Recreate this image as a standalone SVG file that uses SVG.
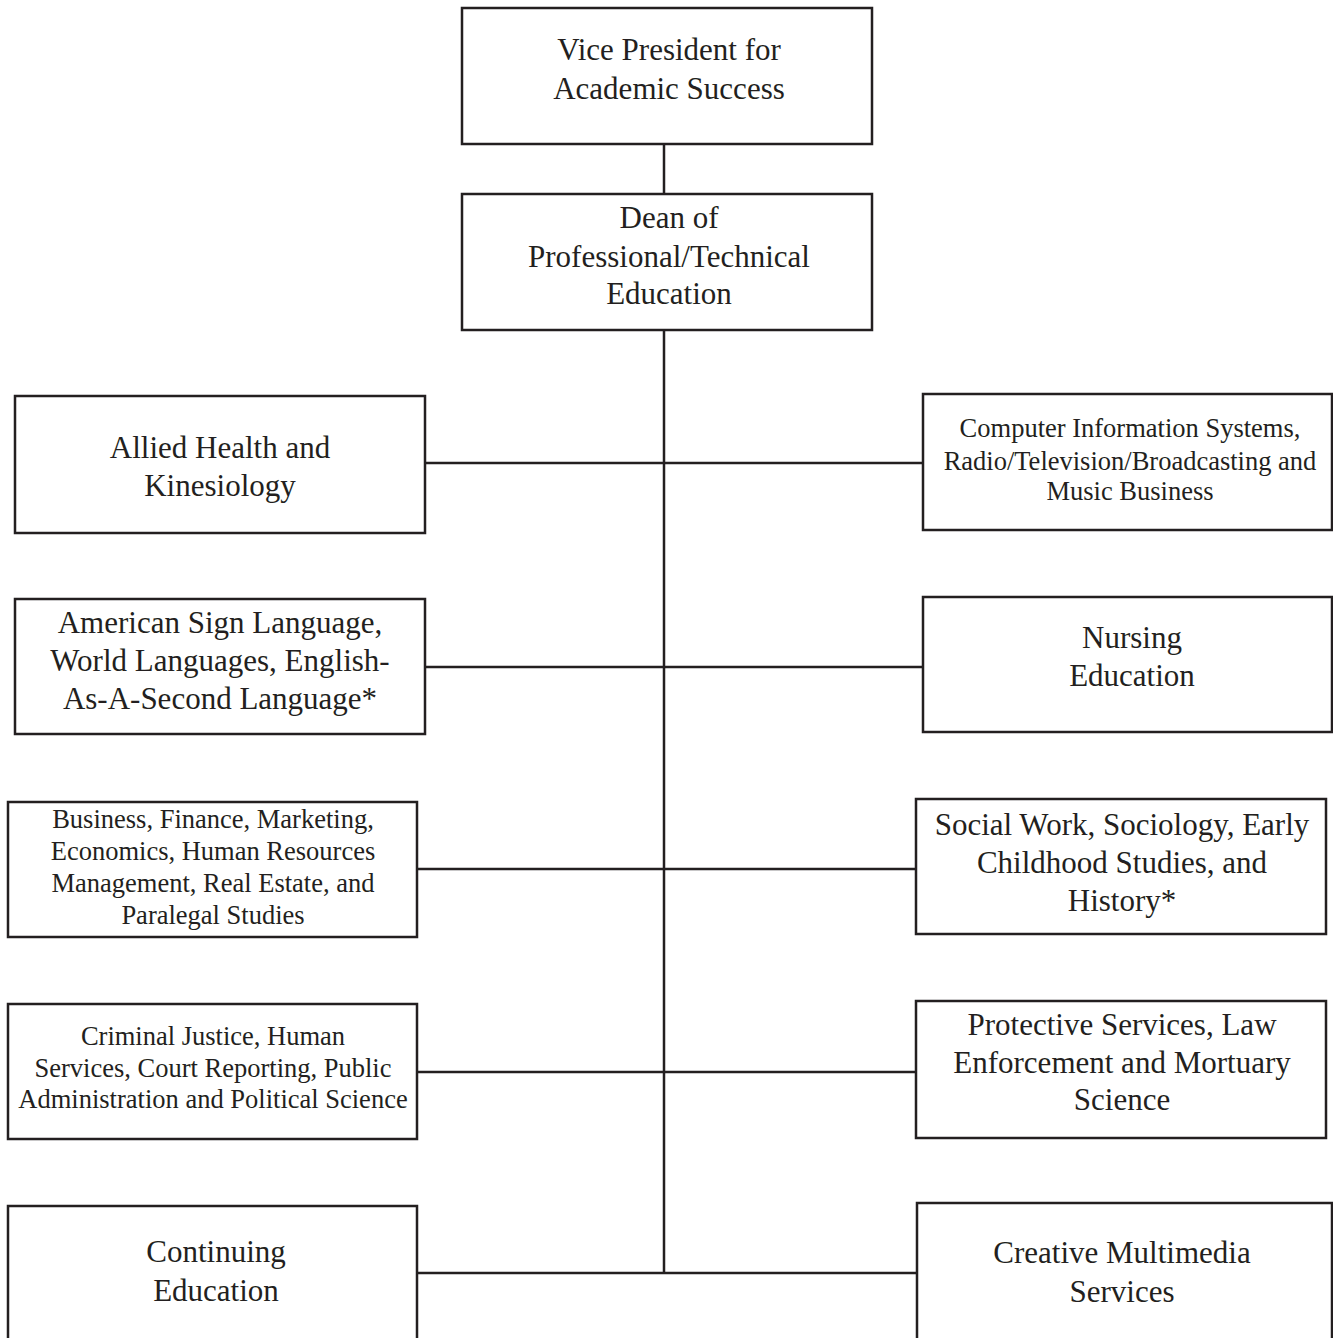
<svg xmlns="http://www.w3.org/2000/svg" width="1333" height="1338" viewBox="0 0 1333 1338">
<style>
.box{fill:#fff;stroke:#231f20;stroke-width:2.5}
.ln{stroke:#231f20;stroke-width:2.5;fill:none}
text{font-family:"Liberation Serif","Times New Roman",serif;fill:#231f20;text-anchor:middle}
.b{font-size:31px}
.s{font-size:26.5px}
</style>
<rect width="1333" height="1338" fill="#fff"/>
<g id="connectors">
<line class="ln" x1="664" y1="144" x2="664" y2="194"/>
<line class="ln" x1="664" y1="330" x2="664" y2="1273"/>
<line class="ln" x1="425" y1="463" x2="923" y2="463"/>
<line class="ln" x1="425" y1="667" x2="923" y2="667"/>
<line class="ln" x1="417" y1="869" x2="916" y2="869"/>
<line class="ln" x1="417" y1="1072" x2="916" y2="1072"/>
<line class="ln" x1="417" y1="1273" x2="917" y2="1273"/>
</g>
<g id="vp">
<rect class="box" x="462" y="8" width="410" height="136"/>
<text class="b" x="669" y="60">Vice President for</text>
<text class="b" x="669" y="99">Academic Success</text>
</g>
<g id="dean">
<rect class="box" x="462" y="194" width="410" height="136"/>
<text class="b" x="669" y="228">Dean of</text>
<text class="b" x="669" y="267">Professional/Technical</text>
<text class="b" x="669" y="304">Education</text>
</g>
<g id="allied">
<rect class="box" x="15" y="396" width="410" height="137"/>
<text class="b" x="220" y="458">Allied Health and</text>
<text class="b" x="220" y="496">Kinesiology</text>
</g>
<g id="asl">
<rect class="box" x="15" y="599" width="410" height="135"/>
<text class="b" x="220" y="633">American Sign Language,</text>
<text class="b" x="220" y="671">World Languages, English-</text>
<text class="b" x="220" y="709">As-A-Second Language*</text>
</g>
<g id="business">
<rect class="box" x="8" y="802" width="409" height="135"/>
<text class="s" x="213" y="828">Business, Finance, Marketing,</text>
<text class="s" x="213" y="860">Economics, Human Resources</text>
<text class="s" x="213" y="892">Management, Real Estate, and</text>
<text class="s" x="213" y="924">Paralegal Studies</text>
</g>
<g id="criminal">
<rect class="box" x="8" y="1004" width="409" height="135"/>
<text class="s" x="213" y="1045">Criminal Justice, Human</text>
<text class="s" x="213" y="1077">Services, Court Reporting, Public</text>
<text class="s" x="213" y="1108">Administration and Political Science</text>
</g>
<g id="continuing">
<rect class="box" x="8" y="1206" width="409" height="150"/>
<text class="b" x="216" y="1262">Continuing</text>
<text class="b" x="216" y="1301">Education</text>
</g>
<g id="cis">
<rect class="box" x="923" y="394" width="409" height="136"/>
<text class="s" x="1130" y="437">Computer Information Systems,</text>
<text class="s" x="1130" y="470">Radio/Television/Broadcasting and</text>
<text class="s" x="1130" y="500">Music Business</text>
</g>
<g id="nursing">
<rect class="box" x="923" y="597" width="409" height="135"/>
<text class="b" x="1132" y="648">Nursing</text>
<text class="b" x="1132" y="686">Education</text>
</g>
<g id="social">
<rect class="box" x="916" y="799" width="410" height="135"/>
<text class="b" x="1122" y="835">Social Work, Sociology, Early</text>
<text class="b" x="1122" y="873">Childhood Studies, and</text>
<text class="b" x="1122" y="911">History*</text>
</g>
<g id="protective">
<rect class="box" x="916" y="1001" width="410" height="137"/>
<text class="b" x="1122" y="1035">Protective Services, Law</text>
<text class="b" x="1122" y="1073">Enforcement and Mortuary</text>
<text class="b" x="1122" y="1110">Science</text>
</g>
<g id="creative">
<rect class="box" x="917" y="1203" width="415" height="150"/>
<text class="b" x="1122" y="1263">Creative Multimedia</text>
<text class="b" x="1122" y="1302">Services</text>
</g>
</svg>
